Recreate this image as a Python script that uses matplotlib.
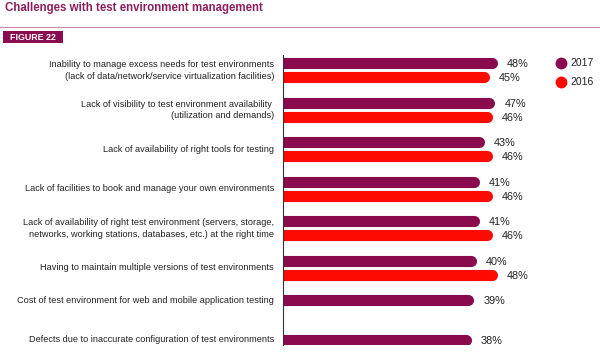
import matplotlib
matplotlib.use("Agg")
import matplotlib.pyplot as plt
from matplotlib.patches import Rectangle
from matplotlib.lines import Line2D

# data
categories = [
    "Inability to manage excess needs for test environments\n(lack of data/network/service virtualization facilities)",
    "Lack of visibility to test environment availability \n(utilization and demands)",
    "Lack of availability of right tools for testing",
    "Lack of facilities to book and manage your own environments",
    "Lack of availability of right test environment (servers, storage,\nnetworks, working stations, databases, etc.) at the right time",
    "Having to maintain multiple versions of test environments",
    "Cost of test environment for web and mobile application testing",
    "Defects due to inaccurate configuration of test environments",
]
vals_2017 = [48, 47, 43, 41, 41, 40, 39, 38]
vals_2016 = [45, 46, 46, 46, 46, 48, None, None]

c2017 = "#8a0a4e"
c2016 = "#ff0a00"
title_col = "#8c1f5c"

plain = ["Liberation Sans", "DejaVu Sans"]

W, H = 600, 353
fig = plt.figure(figsize=(6, 3.53), dpi=100)

# axes: left spine at x=283px, top 55px, bottom 345px
base = -32.2
xmax = 70
ax = fig.add_axes([283 / W, 1 - 345 / H, 266 / W, 290 / H])
ax.set_xlim(base, xmax)
ax.set_ylim(6.95, -0.39)
for s in ["top", "right", "bottom"]:
    ax.spines[s].set_visible(False)
ax.spines["left"].set_color("#333333")
ax.spines["left"].set_linewidth(0.8)
ax.set_xticks([])
ax.set_yticks([])

off = 0.177
lw = 8.0
for i, cat in enumerate(categories):
    ys = []
    y1 = i - off
    ax.plot([base, vals_2017[i]], [y1, y1], color=c2017, lw=lw,
            solid_capstyle="round")
    ax.annotate(f"{vals_2017[i]}%", (vals_2017[i], y1), xytext=(11, -0.5),
                textcoords="offset points", va="center", ha="left",
                fontsize=7.8, family=plain, color="#222222")
    ys.append(y1)
    if vals_2016[i] is not None:
        y2 = i + off
        ax.plot([base, vals_2016[i]], [y2, y2], color=c2016, lw=lw,
                solid_capstyle="round")
        ax.annotate(f"{vals_2016[i]}%", (vals_2016[i], y2), xytext=(11, -0.5),
                    textcoords="offset points", va="center", ha="left",
                    fontsize=7.8, family=plain, color="#222222")
        ys.append(y2)
    ax.annotate(cat, (base, sum(ys) / len(ys)), xytext=(-6.5, 0),
                textcoords="offset points", va="center", ha="right",
                fontsize=6.6, family=plain, color="#222222",
                linespacing=1.4, annotation_clip=False)

# title and header
fig.text(5 / W, 1 - 8.5 / H, "Challenges with test environment management",
         fontsize=8.3, fontweight="bold", family=plain, color=title_col,
         va="center", ha="left")
fig.add_artist(Line2D([0, 1], [1 - 27 / H, 1 - 27 / H], color="#c98aaa", lw=0.8))
fig.add_artist(Rectangle((3 / W, 1 - 43 / H), 60 / W, 12 / H,
                         facecolor="#8a0d50", edgecolor="none"))
fig.text(33 / W, 1 - 37 / H, "FIGURE 22", fontsize=6.4, fontweight="bold",
         family=plain, color="white", va="center", ha="center")

# legend
leg_items = [("2017", c2017, 63), ("2016", c2016, 82)]
for lab, col, ypx in leg_items:
    fig.add_artist(Line2D([561 / W], [1 - ypx / H], marker="o", markersize=7.5,
                          color=col, linestyle="none"))
    fig.text(570 / W, 1 - ypx / H, lab, fontsize=7.5, family=plain,
             color="#222222", va="center", ha="left")

fig.savefig("out.png", dpi=100, facecolor="white")
